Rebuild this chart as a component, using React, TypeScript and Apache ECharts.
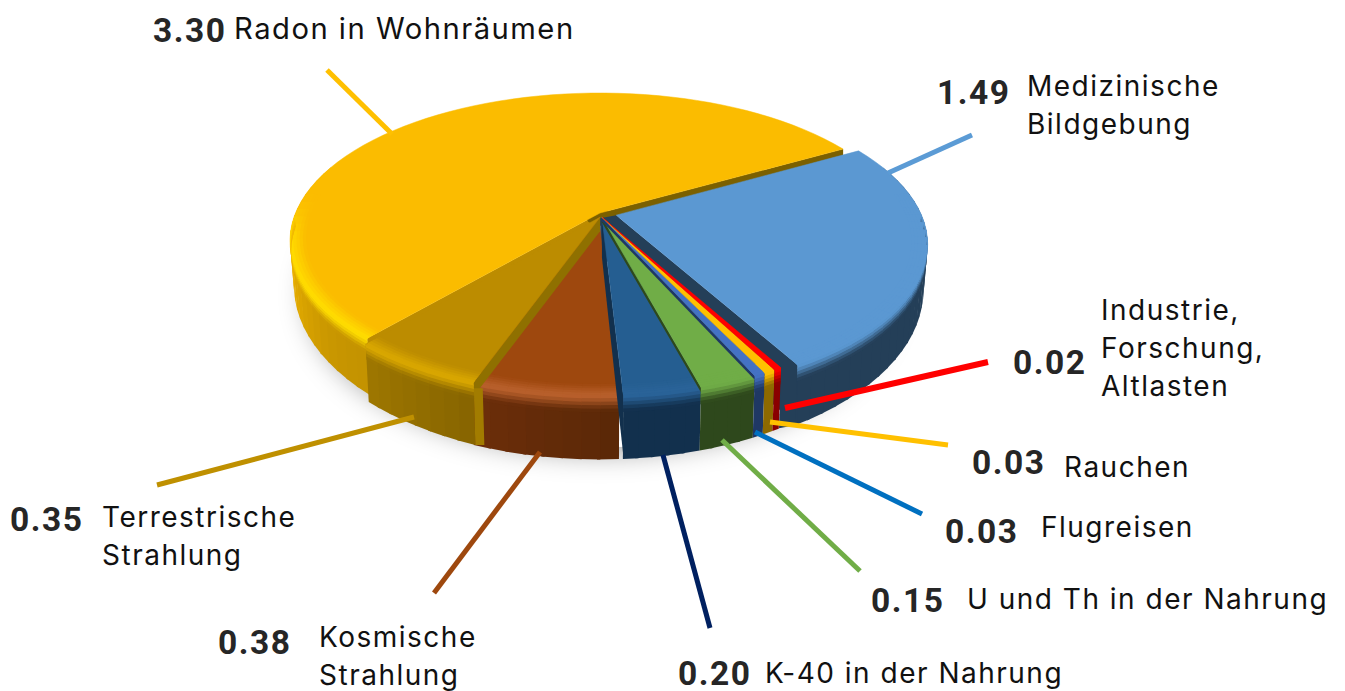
import React, { useEffect, useRef } from "react";
import * as echarts from "echarts";

const categories = [
  "Radon in Wohnräumen",
  "Medizinische\nBildgebung",
  "Industrie,\nForschung,\nAltlasten",
  "Rauchen",
  "Flugreisen",
  "U und Th in der Nahrung",
  "K-40 in der Nahrung",
  "Kosmische\nStrahlung",
  "Terrestrische\nStrahlung",
];
const values = [3.3, 1.49, 0.02, 0.03, 0.03, 0.15, 0.2, 0.38, 0.35];

// styles
const topColors = ["#FBBC00", "#5B98D2", "#FF0000", "#FFC000", "#4472C4", "#70AD47", "#255E91", "#9E480E", "#BC8C00"];
const hiColors = ["#FFDD00", "#5B98D2", "#FF0000", "#FFC000", "#4472C4", "#70AD47", "#2A6399", "#B9602C", "#DAA800"];
const wallLeft = ["#F0B400", "#243F58", "#8A0000", "#8F6C00", "#1F3864", "#2E481C", "#12304D", "#6C2E0A", "#9E7700"];
const wallRight = ["#C49300", "#243F58", "#8A0000", "#8A6600", "#1F3864", "#2E481C", "#12304D", "#5A2807", "#866400"];
const cutColors = ["#7B6000", "#243F58", "#8A0000", "#8A6600", "#1F3864", "#2E481C", "#12304D", "#612A08", "#8F7000"];
const startCutColors = ["#BC8C00", "#243F58", "#8A0000", "#8A6600", "#1F3864", "#2E481C", "#12304D", "#612A08", "#8F7000"];
const leaderColors = ["#FFC000", "#5B9BD5", "#FF0000", "#FFC000", "#0070C0", "#70AD47", "#002060", "#9E480E", "#BF9000"];
const explode = [0, 0.055, 0.03, 0.03, 0.03, 0.03, 0.03, 0.03, 0.03];
// direction of the pull, degrees clockwise from 12 o'clock; null = the slice's own middle
const explodeDir = [null, null, 168, 168, 168, 168, 168, null, 180];
const endCutDepth = [9, 80, 0, 0, 4, 5, 60, 0, 0];
const startCutDepth = [14, 0, 0, 0, 0, 0, 0, 0, 14];
const startCorner = [0, 0, 0, 0, 0, 0, 0, 0, 9];
const endCorner = [0, 16, 0, 0, 0, 0, 0, 0, 0];
const labelSizes = [29.2, 28, 28, 28, 28, 28, 28, 28, 28];
const paintOrder = [0, 1, 7, 6, 5, 4, 3, 2, 8];

// layout: [leader x1,y1,x2,y2, value x,y, label x,y]
const leaderLayout = [
  [392, 134, 327, 70, 153, 30, 234, 28],
  [888, 173, 972, 135, 937, 92, 1027, 105],
  [785, 408, 988, 362, 1013, 362, 1101, 348],
  [770, 422, 948, 445, 972, 462, 1064, 467],
  [755, 432, 922, 514, 945, 531, 1041, 527],
  [722, 440, 860, 571, 871, 600, 967, 599],
  [663, 455, 710, 628, 678, 673, 765, 673],
  [540, 452, 434, 593, 218, 642, 319, 656],
  [414, 417, 157, 485, 10, 519, 102, 536],
];

const START = -139;
const CX = 600, CY = 213;
const P = 0.1877, A = 142.5, B = 304.5, H = 42;
const BEVEL = 0.05, Z1 = 0.27, STEP = 3, OVERLAP = 0.5;

const total = values.reduce((s, v) => s + v, 0);
const spans = (() => {
  let a = START;
  return values.map((v) => {
    const a0 = a;
    a += (v / total) * 360;
    return [a0, a];
  });
})();

const rgb = (h: string) => [1, 3, 5].map((i) => parseInt(h.slice(i, i + 2), 16));
const mix = (c1: string, c2: string, t: number) => {
  const a = rgb(c1), b = rgb(c2);
  const c = a.map((v, i) => Math.round(v + (b[i] - v) * t));
  return "#" + c.map((v) => v.toString(16).padStart(2, "0")).join("");
};
const smooth = (x: number, a: number, b: number) => {
  const t = Math.min(1, Math.max(0, (x - a) / (b - a)));
  return t * t * (3 - 2 * t);
};

// model → picture: unit disc in the pie's plane, z in 0..1 from top to bottom face
const project = (X: number, Y: number, Z: number) => {
  const k = 1 / (1 - P * Y);
  const s = 1 / (1 + 0.013 * Z);
  return [CX + B * X * k * s, CY + A * Y * k + H * k * k * Z];
};
const dirOf = (deg: number) => {
  const t = (deg * Math.PI) / 180;
  return [Math.sin(t), -Math.cos(t)];
};

function renderSlice(_: any, api: any) {
  const i = api.value(0) as number;
  const [a0, a1] = spans[i];
  const mid = dirOf(explodeDir[i] ?? (a0 + a1) / 2);
  const ox = mid[0] * explode[i];
  const oy = mid[1] * explode[i];
  const pt = (deg: number, r: number, z: number) => {
    const d = dirOf(deg);
    return project(ox + d[0] * r, oy + d[1] * r, z);
  };
  const n = Math.max(1, Math.ceil((a1 - a0) / STEP));
  const angs: number[] = [];
  for (let j = 0; j <= n; j++) angs.push(a0 + ((a1 - a0) * j) / n);

  const kids: any[] = [];
  const poly = (points: number[][], fill: string, line = 0) =>
    kids.push({ type: "polygon", shape: { points }, style: { fill, stroke: line ? fill : null, lineWidth: line }, silent: true });

  const wallAt = (deg: number) =>
    i === 0
      ? mix(wallRight[i], wallLeft[i], smooth(deg, a0, -90))
      : mix(wallLeft[i], wallRight[i], 1 - (deg - a0) / (a1 - a0));

  // outer wall
  for (let j = 0; j < n; j++) {
    const u = angs[j], v = j === n - 1 ? angs[j + 1] : angs[j + 1] + OVERLAP;
    const Y = dirOf((u + v) / 2)[1];
    if (Y < -0.35) continue;
    poly([pt(u, 1, 0), pt(v, 1, 0), pt(v, 1, 1), pt(u, 1, 1)], wallAt((u + v) / 2));
  }

  // cut faces
  const cut = (deg: number, d: number, reach: number, color: string) => {
    if (d <= 0) return;
    const a = pt(deg, 0, 0), b = pt(deg, 1, 0);
    const bottom = Math.min(d, pt(deg, 1, 1)[1] - b[1]);
    const low = a[1] + Math.min(d, 40);
    poly([a, b, [b[0], b[1] + bottom], [a[0] - reach, low], [a[0] - reach, a[1] + 3]], color);
  };
  cut(a1, endCutDepth[i], endCorner[i], cutColors[i]);
  cut(a0, startCutDepth[i], 0, startCutColors[i]);
  if (startCorner[i] > 0) {
    const b = pt(a0, 1, 0), c = pt(a0, 1, 1);
    poly([[b[0], b[1] + 6], [b[0] + startCorner[i], b[1] + 6], [c[0] + startCorner[i], c[1]], c], "#A27C00");
  }
  if (endCorner[i] > 0) {
    const b = pt(a1, 1, 0.1), c = pt(a1, 1, 1);
    poly([b, [b[0] - endCorner[i], b[1]], [c[0] - endCorner[i], c[1] + 3], c], cutColors[i]);
  }

  if (i === 0) {
    // small dark hub where the slices meet
    const hub: number[][] = [];
    for (let d = 0; d < 360; d += 30) {
      const v = dirOf(d);
      hub.push(project(v[0] * 0.055 + 0.01, v[1] * 0.055 + 0.035, 0));
    }
    poly(hub, cutColors[0]);
  }

  // top face
  const topPts = [pt(a0, 0, 0)];
  angs.forEach((d) => topPts.push(pt(d, 1, 0)));
  poly(topPts, topColors[i], 0.5);

  // rounded rim between the top and the wall
  const bands = 10;
  for (let j = 0; j < n; j++) {
    const u = angs[j], v = j === n - 1 ? angs[j + 1] : angs[j + 1] + OVERLAP;
    const Y = dirOf((u + v) / 2)[1];
    if (Y < -0.15) continue;
    const w = smooth(Y, -0.15, 0.2);
    const hi = mix(topColors[i], hiColors[i], w);
    const wall = wallAt((u + v) / 2);
    for (let b = 0; b < bands; b++) {
      const t0 = b / bands, t1 = (b + 1.25) / bands, tc = (b + 0.5) / bands;
      const prof = (t: number) =>
        t < 0.5 ? { r: 1 - BEVEL * (1 - t / 0.5), z: 0 } : { r: 1, z: (Math.min(1, (t - 0.5) / 0.5)) * Z1 };
      const p0 = prof(t0), p1 = prof(t1);
      if (Y < 0 && t0 >= 0.5) continue;
      const col = tc < 0.5 ? mix(topColors[i], hi, tc / 0.5) : mix(hi, wall, smooth(tc, 0.5, 1));
      poly([pt(u, p0.r, p0.z), pt(v, p0.r, p0.z), pt(v, p1.r, p1.z), pt(u, p1.r, p1.z)], col);
    }
  }
  return { type: "group", children: kids };
}

function renderShadow() {
  const pts: number[][] = [];
  for (let d = 0; d < 360; d += 4) {
    const v = dirOf(d);
    pts.push(project(v[0] * 0.96, v[1] * 0.96 + 0.02, 1));
  }
  return {
    type: "polygon",
    shape: { points: pts },
    silent: true,
    style: { fill: "#ffffff", shadowColor: "rgba(0,0,0,0.32)", shadowBlur: 26, shadowOffsetY: 8 },
  };
}

export default function App() {
  const ref = useRef<HTMLDivElement>(null);
  useEffect(() => {
    document.body.style.margin = "0";
    const chart = echarts.init(ref.current!, null, { renderer: "svg" });
    const graphics: any[] = [];
    values.forEach((v, i) => {
      const [x1, y1, x2, y2, vx, vy, lx, ly] = leaderLayout[i];
      graphics.push({
        type: "line",
        z: 10,
        silent: true,
        shape: { x1, y1, x2, y2 },
        style: { stroke: leaderColors[i], lineWidth: i === 2 ? 6 : 5 },
      });
      graphics.push({
        type: "text",
        z: 11,
        x: vx,
        y: vy,
        style: {
          text: v.toFixed(2),
          fill: "#262626",
          font: "bold 33.5px Roboto",
          textAlign: "left",
          textVerticalAlign: "middle",
        },
      });
      graphics.push({
        type: "text",
        z: 11,
        x: lx,
        y: ly,
        style: {
          text: categories[i],
          fill: "#111111",
          font: `${labelSizes[i]}px Inter`,
          lineHeight: 38,
          textAlign: "left",
          textVerticalAlign: "middle",
        },
      });
    });
    chart.setOption({
      animation: false,
      backgroundColor: "#ffffff",
      graphic: { elements: graphics },
      series: [
        { type: "custom", coordinateSystem: "none", silent: true, z: 1, renderItem: renderShadow, data: [[0]] },
        {
          type: "custom",
          coordinateSystem: "none",
          silent: true,
          z: 2,
          renderItem: renderSlice,
          data: paintOrder.map((i) => [i, values[i]]),
        },
      ],
    });
    return () => chart.dispose();
  }, []);
  return (
    <div
      ref={ref}
      style={{ position: "absolute", left: 0, top: 0, width: 1345, height: 691, letterSpacing: "1.5px" }}
    />
  );
}
